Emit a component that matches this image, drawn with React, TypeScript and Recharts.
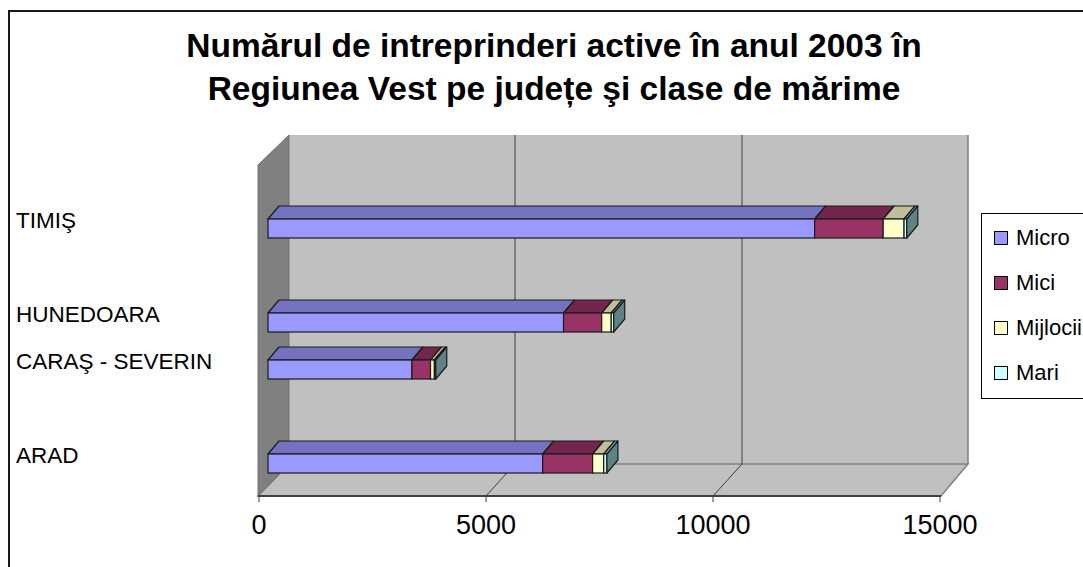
import React from 'react';
import { BarChart, Bar, XAxis, YAxis, ReferenceArea, ReferenceLine, Legend } from 'recharts';

// categories top to bottom; the blank ones keep Excel's empty rows
const judete = ['TIMIŞ', '', 'HUNEDOARA', 'CARAŞ - SEVERIN', ' ', 'ARAD'];
const micro = [12040, null, 6510, 3170, null, 6050];
const mici = [1510, null, 840, 410, null, 1100];
const mijlocii = [460, null, 210, 85, null, 245];
const mari = [60, null, 55, 30, null, 70];
const seriesNames = ['Micro', 'Mici', 'Mijlocii', 'Mari'];
const xTicks = [0, 5000, 10000, 15000];
const gridValues = [5000, 10000];

const FONT = "'Liberation Sans', Arial, Helvetica, sans-serif";
const DX = 11;
const DY = -13;

const data = judete.map((name, i) => ({
  name,
  Micro: micro[i],
  Mici: mici[i],
  Mijlocii: mijlocii[i],
  Mari: mari[i],
}));

// 3D-looking bar segment: front rect, top face, optional end face
function makeBar(topColor: string, sideColor?: string) {
  return (props: any) => {
    const { x, y, width, height, fill } = props;
    if (!width || width <= 0 || !height) return <g />;
    const s = '#1a1a1a';
    return (
      <g>
        <polygon
          points={`${x},${y} ${x + DX},${y + DY} ${x + width + DX},${y + DY} ${x + width},${y}`}
          fill={topColor}
          stroke={s}
          strokeWidth={1.2}
          strokeLinejoin="round"
        />
        <rect x={x} y={y} width={width} height={height} fill={fill} stroke={s} strokeWidth={1.2} />
        {sideColor && (
          <polygon
            points={`${x + width},${y} ${x + width + DX},${y + DY} ${x + width + DX},${y + height + DY} ${x + width},${y + height}`}
            fill={sideColor}
            stroke={s}
            strokeWidth={1.2}
            strokeLinejoin="round"
          />
        )}
      </g>
    );
  };
}

function Walls(props: any) {
  const { x, y, width, height } = props;
  const L = x, R = x + width, T = y, B = y + height;
  const fL = L - 10, fR = R - 8, bL = L + 21, bR = R + 19;
  const fT = T - 40, bT = T - 70, bB = B - 23, fB = B + 9;
  return (
    <g>
      <rect x={bL} y={bT} width={bR - bL} height={bB - bT} fill="#c0c0c0" />
      <line x1={bR} y1={bT} x2={bR} y2={bB} stroke="#808080" strokeWidth={1.5} />
      <polygon
        points={`${fL},${fB} ${bL},${bB} ${bR},${bB} ${fR},${fB}`}
        fill="#c0c0c0"
        stroke="#808080"
        strokeWidth={1.5}
      />
      <polygon points={`${fL},${fT} ${bL},${bT} ${bL},${bB} ${fL},${fB}`} fill="#808080" stroke="#707070" />
      <line x1={fL} y1={fB} x2={fR} y2={fB} stroke="#404040" strokeWidth={2} />
    </g>
  );
}

function BackGridLine(props: any) {
  const { x1, y1, y2 } = props;
  const top = Math.min(y1, y2);
  const bottom = Math.max(y1, y2);
  return (
    <g>
      <line x1={x1 + 20} y1={top - 70} x2={x1 + 20} y2={bottom - 23} stroke="#404040" />
      <line x1={x1 - 9} y1={bottom + 9} x2={x1 + 20} y2={bottom - 23} stroke="#404040" />
    </g>
  );
}

function XTick(props: any) {
  const { x, y, payload } = props;
  return (
    <g>
      <line x1={x - 9} y1={y + 9} x2={x - 9} y2={y + 15} stroke="#404040" />
      <text x={x - 9} y={y + 47} textAnchor="middle" fontSize={27} fill="#000" fontFamily={FONT}>
        {payload.value}
      </text>
    </g>
  );
}

function YTick(props: any) {
  const { x, y, payload } = props;
  return (
    <text x={x - 252} y={y - 1} textAnchor="start" fontSize={22.5} fill="#000" fontFamily={FONT}>
      {payload.value}
    </text>
  );
}

function LegendBox(props: any) {
  const payload = [...(props.payload || [])].sort(
    (a: any, b: any) => seriesNames.indexOf(a.value) - seriesNames.indexOf(b.value),
  );
  return (
    <div
      style={{
        width: 130,
        height: 184,
        border: '1px solid #000',
        background: '#fff',
        position: 'relative',
        fontFamily: FONT,
        fontSize: 22,
        color: '#000',
      }}
    >
      {payload.map((p: any, i: number) => (
        <div
          key={p.value}
          style={{ position: 'absolute', left: 12, top: 13 + i * 45, height: 22, display: 'flex', alignItems: 'center' }}
        >
          <span
            style={{
              display: 'inline-block',
              width: 12,
              height: 12,
              border: '1px solid #000',
              background: p.color,
              marginRight: 8,
            }}
          />
          <span>{p.value}</span>
        </div>
      ))}
    </div>
  );
}

export default function App() {
  return (
    <div style={{ position: 'absolute', left: 0, top: 0, width: 1083, height: 567, overflow: 'hidden', background: '#fff' }}>
      <div
        style={{
          position: 'absolute',
          left: 8,
          top: 10,
          width: 1200,
          height: 700,
          border: '2px solid #1a1a1a',
        }}
      />
      <div
        style={{
          position: 'absolute',
          left: 54,
          top: 24,
          width: 1000,
          textAlign: 'center',
          fontFamily: FONT,
          fontWeight: 'bold',
          fontSize: 33.5,
          lineHeight: '43px',
          color: '#000',
        }}
      >
        Numărul de intreprinderi active în anul 2003 în
        <br />
        Regiunea Vest pe județe şi clase de mărime
      </div>
      <div style={{ position: 'absolute', left: 0, top: 0 }}>
        <BarChart
          width={1083}
          height={567}
          data={data}
          layout="vertical"
          barSize={19}
          margin={{ top: 205, right: 134, bottom: 50, left: 18 }}
        >
          <XAxis
            type="number"
            domain={[0, 15000]}
            ticks={xTicks}
            interval={0}
            axisLine={false}
            tickLine={false}
            tickSize={0}
            tickMargin={0}
            height={30}
            tick={<XTick />}
          />
          <YAxis
            type="category"
            dataKey="name"
            width={250}
            axisLine={false}
            tickLine={false}
            tickSize={0}
            tickMargin={0}
            interval={0}
            tick={<YTick />}
          />
          <ReferenceArea x1={0} x2={15000} shape={(p: any) => <Walls {...p} />} zIndex={-20} />
          {gridValues.map((v) => (
            <ReferenceLine key={v} x={v} shape={(p: any) => <BackGridLine {...p} />} zIndex={-10} />
          ))}
          <Legend
            layout="horizontal"
            verticalAlign="middle"
            align="center"
            wrapperStyle={{ left: 981, top: 213, width: 132 }}
            content={<LegendBox />}
          />
          <Bar dataKey="Micro" stackId="a" fill="#9999ff" shape={makeBar('#7373bf')} isAnimationActive={false} />
          <Bar dataKey="Mici" stackId="a" fill="#993366" shape={makeBar('#73264d')} isAnimationActive={false} />
          <Bar dataKey="Mijlocii" stackId="a" fill="#ffffcc" shape={makeBar('#bfbf99')} isAnimationActive={false} />
          <Bar dataKey="Mari" stackId="a" fill="#ccffff" shape={makeBar('#99bfbf', '#5f8282')} isAnimationActive={false} />
        </BarChart>
      </div>
    </div>
  );
}
